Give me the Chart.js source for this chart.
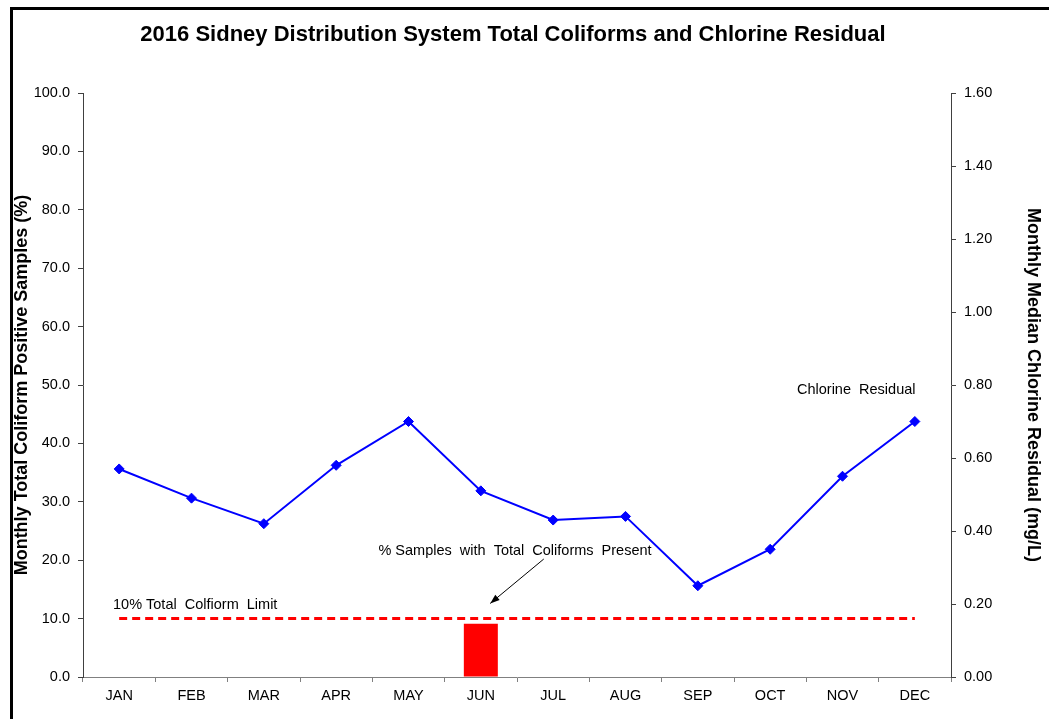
<!DOCTYPE html>
<html>
<head>
<meta charset="utf-8">
<script src="https://cdn.jsdelivr.net/npm/chart.js@4"></script>
<style>
  html, body { margin: 0; padding: 0; background: #fff; }
  #wrap { width: 1049px; height: 719px; }
</style>
</head>
<body>
<div id="wrap"><canvas id="chart" width="1049" height="719"></canvas></div>
<script>
// data
const months = ['JAN','FEB','MAR','APR','MAY','JUN','JUL','AUG','SEP','OCT','NOV','DEC'];
const coliformPct = [0, 0, 0, 0, 0, 9.1, 0, 0, 0, 0, 0, 0];
const chlorineResidual = [0.57, 0.49, 0.42, 0.58, 0.70, 0.51, 0.43, 0.44, 0.25, 0.35, 0.55, 0.70];
const coliformLimit = [10, 10, 10, 10, 10, 10, 10, 10, 10, 10, 10, 10];

const FONT = "'Liberation Sans', Arial, sans-serif";

// frame, title and the text notes drawn over the chart
const notes = {
  id: 'notes',
  beforeDraw(chart) {
    const c = chart.ctx;
    c.save();
    c.fillStyle = '#fff';
    c.fillRect(0, 0, chart.width, chart.height);
    c.restore();
  },
  afterDraw(chart) {
    const c = chart.ctx;
    const x = chart.scales.x, y = chart.scales.y;
    c.save();
    // frame
    c.strokeStyle = '#000';
    c.lineWidth = 3;
    c.beginPath();
    c.moveTo(11.5, 719);
    c.lineTo(11.5, 8.5);
    c.lineTo(1049, 8.5);
    c.stroke();

    // title
    c.fillStyle = '#000';
    c.font = 'bold 22px ' + FONT;
    c.textAlign = 'center';
    c.textBaseline = 'middle';
    c.fillText('2016 Sidney Distribution System Total Coliforms and Chlorine Residual', 513, 35);

    c.font = '14.5px ' + FONT;
    c.textBaseline = 'alphabetic';
    c.textAlign = 'left';
    c.fillText('10% Total  Colfiorm  Limit', 113, 609);
    c.fillText('Chlorine  Residual', 797, 394);
    c.textAlign = 'center';
    c.fillText('% Samples  with  Total  Coliforms  Present', 515, 555);

    // arrow to the coliform bar
    const x0 = x.getPixelForValue(5.87), y0 = y.getPixelForValue(20.2);
    const x1 = x.getPixelForValue(5.13), y1 = y.getPixelForValue(12.6);
    c.strokeStyle = '#000';
    c.lineWidth = 1;
    c.beginPath();
    c.moveTo(x0, y0);
    c.lineTo(x1, y1);
    c.stroke();
    const a = Math.atan2(y1 - y0, x1 - x0);
    c.beginPath();
    c.moveTo(x1, y1);
    c.lineTo(x1 - 10 * Math.cos(a - 0.35), y1 - 10 * Math.sin(a - 0.35));
    c.lineTo(x1 - 10 * Math.cos(a + 0.35), y1 - 10 * Math.sin(a + 0.35));
    c.closePath();
    c.fillStyle = '#000';
    c.fill();
    c.restore();
  }
};

new Chart(document.getElementById('chart'), {
  data: {
    labels: months,
    datasets: [
      {
        type: 'line',
        label: 'Chlorine Residual',
        data: chlorineResidual,
        yAxisID: 'y1',
        borderColor: '#0000ff',
        backgroundColor: '#0000ff',
        borderWidth: 2,
        pointStyle: 'rectRot',
        pointRadius: 5,
        pointBorderWidth: 1,
        tension: 0,
        order: 1
      },
      {
        type: 'line',
        label: '10% Total Colfiorm Limit',
        data: coliformLimit,
        yAxisID: 'y',
        borderColor: '#ff0000',
        borderWidth: 3,
        borderDash: [8, 5],
        pointRadius: 0,
        fill: false,
        order: 2
      },
      {
        type: 'bar',
        label: '% Samples with Total Coliforms Present',
        data: coliformPct,
        yAxisID: 'y',
        backgroundColor: '#ff0000',
        categoryPercentage: 1,
        barPercentage: 0.47,
        order: 3
      }
    ]
  },
  options: {
    responsive: false,
    animation: false,
    layout: { padding: { top: 93, left: 0, right: 0, bottom: 0 } },
    plugins: {
      legend: { display: false },
      tooltip: { enabled: false },
      title: { display: false }
    },
    scales: {
      x: {
        offset: true,
        grid: { offset: true, drawOnChartArea: false, drawTicks: true, tickLength: 5, color: '#808080' },
        border: { color: '#808080', width: 1 },
        ticks: { color: '#000', font: { family: FONT, size: 14.5 }, padding: 5, maxRotation: 0 },
        afterFit(s) { s.height = 42; }
      },
      y: {
        position: 'left',
        min: 0, max: 100,
        grid: { drawOnChartArea: false, tickLength: 5, color: '#404040' },
        border: { color: '#404040', width: 1 },
        ticks: {
          stepSize: 10,
          color: '#000',
          font: { family: FONT, size: 14.5 },
          padding: 8,
          callback: v => v.toFixed(1)
        },
        title: {
          display: true,
          text: 'Monthly Total Coliform Positive Samples (%)',
          color: '#000',
          font: { family: FONT, size: 18, weight: 'bold' },
          padding: { top: 11, bottom: 0 }
        },
        afterFit(s) { s.width = 83; }
      },
      y1: {
        position: 'right',
        min: 0, max: 1.6,
        grid: { drawOnChartArea: false, tickLength: 5, color: '#404040' },
        border: { color: '#404040', width: 1 },
        ticks: {
          stepSize: 0.2,
          color: '#000',
          font: { family: FONT, size: 14.5 },
          padding: 8,
          callback: v => v.toFixed(2)
        },
        title: {
          display: true,
          text: 'Monthly Median Chlorine Residual (mg/L)',
          color: '#000',
          font: { family: FONT, size: 18, weight: 'bold' },
          padding: { top: 5, bottom: 0 }
        },
        afterFit(s) { s.width = 98; }
      }
    }
  },
  plugins: [notes]
});
</script>
</body>
</html>
